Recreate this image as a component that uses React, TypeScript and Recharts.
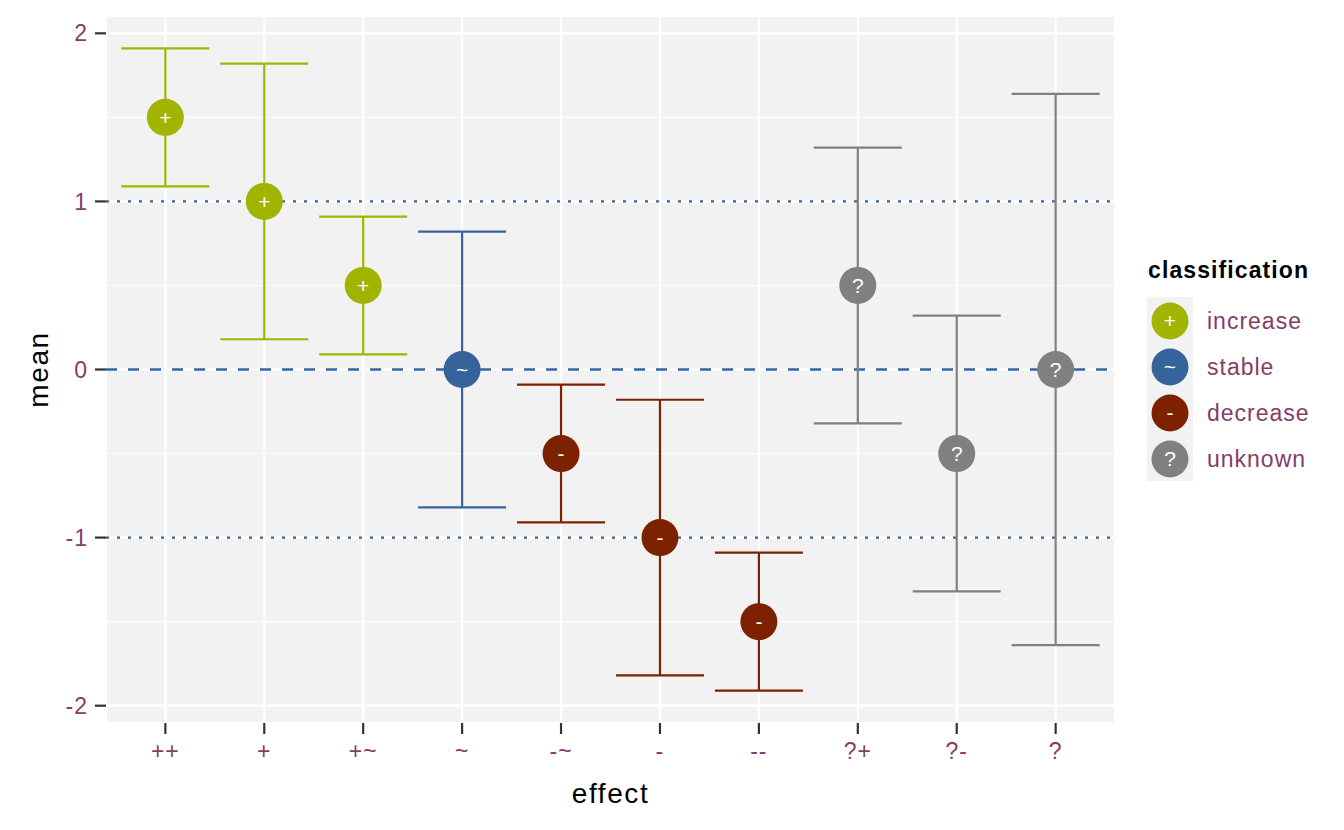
import React from "react";
import {
  ComposedChart,
  Scatter,
  ErrorBar,
  XAxis,
  YAxis,
  CartesianGrid,
  ReferenceLine,
  Label,
} from "recharts";

const effects = ["++", "+", "+~", "~", "-~", "-", "--", "?+", "?-", "?"];
const means = [1.5, 1.0, 0.5, 0, -0.5, -1.0, -1.5, 0.5, -0.5, 0];
const lowers = [1.09, 0.18, 0.09, -0.82, -0.91, -1.82, -1.91, -0.32, -1.32, -1.64];
const uppers = [1.91, 1.82, 0.91, 0.82, -0.09, -0.18, -1.09, 1.32, 0.32, 1.64];
const effectClass = [
  "increase", "increase", "increase", "stable", "decrease",
  "decrease", "decrease", "unknown", "unknown", "unknown",
];

const classes = ["increase", "stable", "decrease", "unknown"];
const classSymbols = ["+", "~", "-", "?"];
const classColors = ["#A0B400", "#36639A", "#7D2200", "#808080"];

const yTicks = [-2, -1, 0, 1, 2];
const yMinor = [-1.5, -0.5, 0.5, 1.5];
const xTicks = effects.map((_, i) => i + 1);

const FONT = '"Liberation Sans", Arial, Helvetica, sans-serif';
const TICK_COLOR = "#843C6A";
const REF_BLUE = "#3465A4";

const rows = effects.map((e, i) => ({
  x: i + 1,
  effect: e,
  mean: means[i],
  err: [means[i] - lowers[i], uppers[i] - means[i]],
  cls: effectClass[i],
}));

function makeDot(color: string, symbol: string) {
  return (props: any) => {
    const { cx, cy } = props;
    if (cx == null || cy == null) return null;
    return (
      <g>
        <circle cx={cx} cy={cy} r={18.5} fill={color} />
        <text
          x={cx}
          y={cy}
          dy="0.35em"
          textAnchor="middle"
          fill="#ffffff"
          fontSize={21}
          fontFamily={FONT}
        >
          {symbol}
        </text>
      </g>
    );
  };
}

// legend drawn next to the chart, ggplot style
function ClassLegend() {
  return (
    <svg
      width={200}
      height={240}
      style={{ position: "absolute", left: 1140, top: 250, overflow: "visible" }}
    >
      <text
        x={8}
        y={28}
        fontSize={23}
        fontWeight="bold"
        letterSpacing={1.1}
        fill="#000"
        fontFamily={FONT}
      >
        classification
      </text>
      <rect x={7} y={47} width={46} height={184} fill="#F2F2F2" />
      {classes.map((c, i) => (
        <g key={c}>
          <circle cx={30} cy={71 + i * 46} r={18.5} fill={classColors[i]} />
          <text
            x={30}
            y={71 + i * 46}
            dy="0.35em"
            textAnchor="middle"
            fill="#fff"
            fontSize={21}
            fontFamily={FONT}
          >
            {classSymbols[i]}
          </text>
          <text
            x={67}
            y={71 + i * 46}
            dy="0.35em"
            fill={TICK_COLOR}
            fontSize={23}
            letterSpacing={1}
            fontFamily={FONT}
          >
            {c}
          </text>
        </g>
      ))}
    </svg>
  );
}

export default function App() {
  return (
    <div style={{ position: "absolute", left: 0, top: 0, width: 1344, height: 830, background: "#fff" }}>
      <ComposedChart
        width={1344}
        height={830}
        margin={{ top: 16, right: 229, bottom: 0, left: 0 }}
        style={{ fontFamily: FONT }}
      >
        <CartesianGrid fill="#F2F2F2" stroke="#ffffff" strokeWidth={2.2} />
        {yMinor.map((v) => (
          <ReferenceLine key={v} y={v} stroke="#ffffff" strokeWidth={1.1} />
        ))}
        <XAxis
          type="number"
          dataKey="x"
          domain={[0.4, 10.6]}
          ticks={xTicks}
          interval={0}
          height={107}
          axisLine={false}
          tickSize={11}
          tickMargin={9}
          tickLine={{ stroke: "#333333", strokeWidth: 2.2 }}
          tickFormatter={(v: number) => effects[v - 1] ?? ""}
          tick={{ fill: TICK_COLOR, fontSize: 23, letterSpacing: 1, fontFamily: FONT }}
        >
          <Label
            value="effect"
            position="insideBottom"
            offset={27}
            style={{ fontSize: 28, letterSpacing: 1.6, fill: "#000", fontFamily: FONT }}
          />
        </XAxis>
        <YAxis
          type="number"
          domain={[-2.103, 2.103]}
          ticks={yTicks}
          width={106}
          axisLine={false}
          tickSize={11}
          tickMargin={7}
          tickLine={{ stroke: "#333333", strokeWidth: 2.2 }}
          tick={{ fill: TICK_COLOR, fontSize: 23, letterSpacing: 1, fontFamily: FONT }}
        >
          <Label
            value="mean"
            angle={-90}
            position="insideLeft"
            offset={38}
            style={{
              fontSize: 28,
              letterSpacing: 1.6,
              fill: "#000",
              fontFamily: FONT,
              textAnchor: "middle",
            }}
          />
        </YAxis>
        <ReferenceLine y={1} stroke={REF_BLUE} strokeWidth={2.2} strokeDasharray="3 8" />
        <ReferenceLine y={-1} stroke={REF_BLUE} strokeWidth={2.2} strokeDasharray="3 8" />
        <ReferenceLine y={0} stroke={REF_BLUE} strokeWidth={2.4} strokeDasharray="11 11" />
        {classes.map((c, i) => (
          <Scatter
            key={c}
            name={c}
            data={rows.filter((r) => r.cls === c)}
            dataKey="mean"
            fill={classColors[i]}
            isAnimationActive={false}
            shape={makeDot(classColors[i], classSymbols[i])}
          >
            <ErrorBar
              dataKey="err"
              direction="y"
              width={44}
              stroke={classColors[i]}
              strokeWidth={2.2}
              isAnimationActive={false}
            />
          </Scatter>
        ))}
      </ComposedChart>
      <ClassLegend />
    </div>
  );
}
